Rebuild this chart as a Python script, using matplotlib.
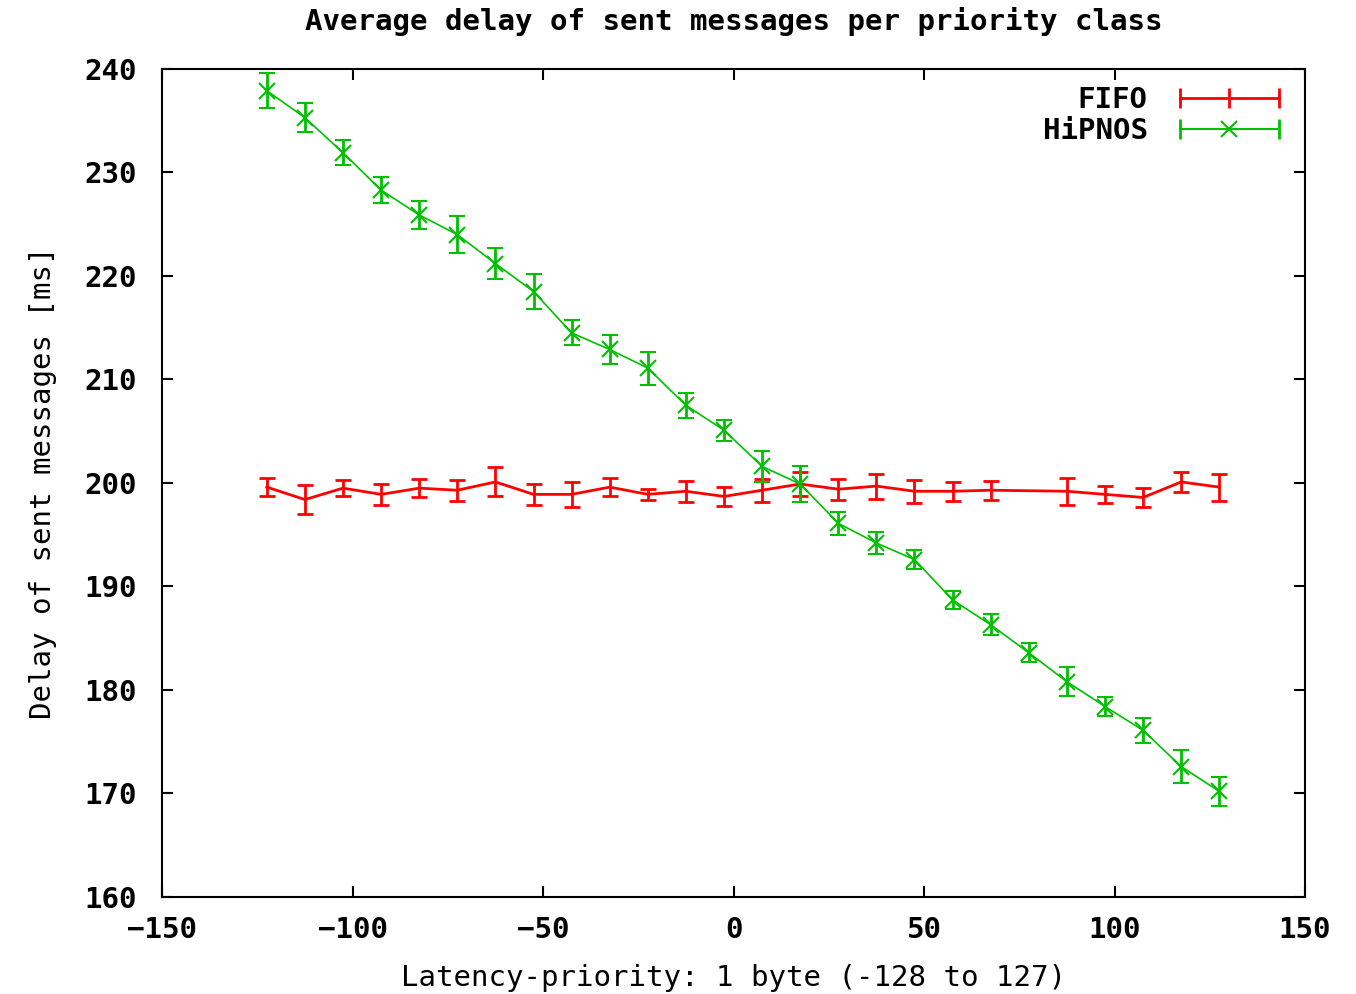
import numpy as np
import matplotlib.pyplot as plt
from matplotlib.lines import Line2D
from matplotlib.legend_handler import HandlerTuple, HandlerLine2D

prio_hipnos = [-122.5, -112.5, -102.5, -92.5, -82.5, -72.5, -62.5, -52.5, -42.5, -32.5,
               -22.5, -12.5, -2.5, 7.5, 17.5, 27.5, 37.5, 47.5, 57.5, 67.5,
               77.5, 87.5, 97.5, 107.5, 117.5, 127.5]
delay_hipnos = [237.9, 235.3, 231.9, 228.3, 225.9, 224.0, 221.2, 218.5, 214.5, 212.9,
                211.1, 207.5, 205.1, 201.6, 199.9, 196.1, 194.2, 192.6, 188.7, 186.3,
                183.6, 180.8, 178.4, 176.1, 172.6, 170.2]
err_hipnos = [1.7, 1.4, 1.2, 1.25, 1.35, 1.8, 1.5, 1.7, 1.2, 1.4,
              1.6, 1.2, 1.0, 1.5, 1.7, 1.1, 1.1, 0.9, 0.9, 1.0,
              0.9, 1.4, 0.9, 1.2, 1.6, 1.4]

prio_fifo = [-122.5, -112.5, -102.5, -92.5, -82.5, -72.5, -62.5, -52.5, -42.5, -32.5,
             -22.5, -12.5, -2.5, 7.5, 17.5, 27.5, 37.5, 47.5, 57.5, 67.5,
             87.5, 97.5, 107.5, 117.5, 127.5]
delay_fifo = [199.6, 198.4, 199.5, 198.9, 199.5, 199.3, 200.1, 198.9, 198.9, 199.6,
              198.9, 199.2, 198.7, 199.3, 199.9, 199.4, 199.7, 199.2, 199.2, 199.3,
              199.2, 198.9, 198.6, 200.1, 199.6]
err_fifo = [0.9, 1.4, 0.8, 1.0, 0.9, 1.0, 1.4, 1.0, 1.2, 0.9,
            0.5, 1.0, 0.9, 1.1, 1.2, 1.0, 1.2, 1.1, 0.9, 0.9,
            1.3, 0.8, 0.9, 1.0, 1.3]

red = '#ff0000'
green = '#00c000'

plt.rcParams['font.family'] = ['DejaVu Sans Mono']
plt.rcParams['font.weight'] = 'bold'

fig = plt.figure(figsize=(13.56, 9.94), dpi=100)
ax = fig.add_axes([0.1195, 0.0976, 0.8429, 0.833])

ax.errorbar(prio_fifo, delay_fifo, yerr=err_fifo, color=red, lw=2,
            elinewidth=2, capsize=6, capthick=2)
ax.errorbar(prio_hipnos, delay_hipnos, yerr=err_hipnos, color=green, lw=1.2,
            marker='x', ms=12, mew=1.5, elinewidth=2, capsize=6, capthick=2)

ax.set_xlim(-150, 150)
ax.set_ylim(160, 240)
ax.set_xticks(np.arange(-150, 151, 50))
ax.set_yticks(np.arange(160, 241, 10))
ax.tick_params(direction='in', top=True, right=True, length=8, width=1.5,
               labelsize=21)
ax.tick_params(axis='x', pad=14)
ax.tick_params(axis='y', pad=18)
for s in ax.spines.values():
    s.set_linewidth(1.5)

ax.set_title('Average delay of sent messages per priority class', fontsize=21,
             fontweight='bold', pad=28)
ax.set_xlabel('Latency-priority: 1 byte (-128 to 127)', fontsize=21, labelpad=14)
ax.set_ylabel('Delay of sent messages [ms]', fontsize=21, labelpad=20)

# gnuplot style legend keys: horizontal line with end caps
fifo_key = Line2D([], [], color=red, lw=2, marker='|', ms=14, mew=2)
hip_caps = Line2D([], [], color=green, lw=1.5, marker='|', ms=14, mew=2)
hip_mark = Line2D([], [], color=green, lw=0, marker='x', ms=12, mew=1.5)
ax.legend([fifo_key, (hip_caps, hip_mark)], ['FIFO', 'HiPNOS'],
          handler_map={tuple: HandlerTuple(ndivide=1),
                       hip_caps: HandlerLine2D(numpoints=2),
                       hip_mark: HandlerLine2D(numpoints=1)},
          loc='upper right', frameon=False, markerfirst=False, fontsize=21,
          numpoints=3, handlelength=4.0, borderaxespad=0.2, labelspacing=0.1,
          handletextpad=0.8)

fig.savefig('out.png', dpi=100)
